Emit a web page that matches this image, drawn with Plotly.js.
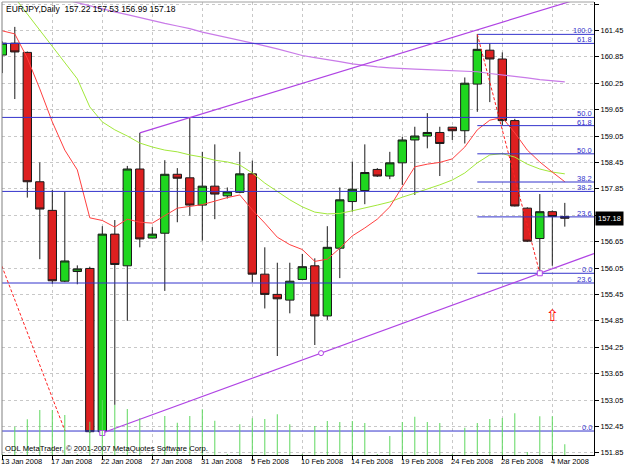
<!DOCTYPE html>
<html><head><meta charset="utf-8">
<script src="https://cdn.plot.ly/plotly-3.0.1.min.js"></script>
<style>html,body{margin:0;padding:0;background:#fff;overflow:hidden}#chart{width:625px;height:469px;}</style>
</head><body><div id="chart"></div>
<script>
// ---------- data ----------
const symbolName = 'EURJPY';
const timeframe = 'Daily';
const dates = ['13 Jan','14 Jan','15 Jan','16 Jan','17 Jan','18 Jan','20 Jan','21 Jan','22 Jan','23 Jan','24 Jan','25 Jan',
  '27 Jan','28 Jan','29 Jan','30 Jan','31 Jan','1 Feb','3 Feb','4 Feb','5 Feb','6 Feb','7 Feb','8 Feb',
  '10 Feb','11 Feb','12 Feb','13 Feb','14 Feb','15 Feb','17 Feb','18 Feb','19 Feb','20 Feb','21 Feb','22 Feb',
  '24 Feb','25 Feb','26 Feb','27 Feb','28 Feb','29 Feb','2 Mar','3 Mar','4 Mar','5 Mar'];
const dateTickIndex = [0,4,8,12,16,20,24,28,32,36,40,44];
const dateTickLabels = ['13 Jan 2008','17 Jan 2008','22 Jan 2008','27 Jan 2008','31 Jan 2008','5 Feb 2008',
  '10 Feb 2008','14 Feb 2008','19 Feb 2008','24 Feb 2008','28 Feb 2008','4 Mar 2008'];
const openP  = [160.89,161.16,160.95,158.01,157.36,155.75,155.97,156.04,152.33,156.82,156.10,158.30,
  156.73,156.84,158.18,158.10,157.48,157.91,157.69,157.77,158.19,155.91,155.45,155.32,
  155.79,156.10,154.96,156.50,157.56,157.81,158.29,158.14,158.44,158.96,159.05,159.13,
  159.25,159.17,160.23,161.00,160.80,159.40,157.41,156.72,157.33,157.22];
const highP  = [161.20,161.53,160.97,158.45,157.82,157.78,156.11,156.08,157.00,157.14,158.37,159.12,
  156.98,158.50,158.32,159.47,158.69,158.86,157.88,158.69,158.49,156.52,156.17,156.17,
  156.37,156.27,157.00,157.88,158.47,158.86,158.32,158.69,159.03,159.26,159.57,159.26,
  159.26,160.38,161.36,161.16,160.95,159.44,157.43,157.73,157.36,157.53];
const lowP   = [160.48,159.89,157.65,156.25,155.69,155.73,155.68,152.30,152.30,152.94,154.85,156.52,
  156.73,155.53,157.09,157.24,156.67,157.16,157.63,157.75,155.72,155.13,154.05,155.02,
  155.78,154.30,154.87,155.82,157.33,157.50,158.12,158.07,157.94,157.71,158.77,158.14,
  158.96,158.88,159.60,159.82,159.30,157.45,156.64,155.93,156.10,156.99];
const closeP = [161.16,160.96,158.01,157.39,155.76,156.21,156.03,152.33,156.82,156.13,158.30,156.71,
  156.82,158.18,158.09,157.48,157.91,157.73,157.78,158.19,155.91,155.45,155.35,155.75,
  156.08,154.96,156.52,157.60,157.84,158.22,158.14,158.44,158.96,159.05,159.13,158.88,
  159.17,160.25,161.02,160.80,159.40,157.46,156.66,157.33,157.22,157.18];
const tickVolume = [100,2830,3570,4500,4500,4000,100,3330,5500,5000,4600,3670,
  100,3900,3230,3900,4570,3430,100,3070,3670,3600,4070,3070,
  100,2900,3400,3300,3400,3200,100,1900,3300,3830,3300,3200,
  100,2730,3200,3600,3700,4170,300,3870,3870,1070];
const maFastRed = [161.44,161.37,160.82,160.12,159.37,158.73,158.28,157.19,157.13,156.98,157.16,157.09,
  157.07,157.25,157.41,157.45,157.49,157.57,157.65,157.71,157.37,157.07,156.75,156.58,
  156.47,156.20,156.25,156.50,156.78,156.96,157.16,157.44,157.91,158.35,158.41,158.45,
  158.53,158.80,159.19,159.41,159.47,159.12,158.73,158.46,158.23,158.01];
const maMidGreen = [162.56,162.19,161.82,161.46,161.07,160.71,160.35,159.71,159.37,159.19,159.05,158.89,
  158.80,158.73,158.69,158.62,158.57,158.50,158.46,158.39,158.21,157.98,157.78,157.60,
  157.44,157.32,157.28,157.29,157.35,157.41,157.48,157.55,157.66,157.75,157.84,157.94,
  158.05,158.21,158.44,158.62,158.65,158.57,158.41,158.30,158.23,158.19];
const maSlowPurple = [null,null,null,null,162.22,162.15,162.07,162.00,161.94,161.87,161.81,161.74,
  161.68,161.61,161.55,161.49,161.41,161.35,161.29,161.23,161.17,161.10,161.03,160.95,
  160.88,160.83,160.79,160.74,160.69,160.65,160.62,160.60,160.58,160.57,160.56,160.55,
  160.54,160.53,160.51,160.47,160.44,160.40,160.37,160.33,160.31,160.28];
const priceTicks = [151.85,152.45,153.05,153.65,154.25,154.85,155.45,156.05,156.65,157.25,157.85,158.45,
  159.05,159.65,160.25,160.85,161.45,162.05];
const fibLevels = [0, 23.6, 38.2, 50, 61.8, 100];
const fib1Time = [-14.2, 5.02];   const fib1Price = [166.60, 152.345];
const fib2Time = [38, 43];        const fib2Price = [161.36, 155.93];
const trendUpperTime = [11, 45];  const trendUpperPrice = [159.12, 162.07];
const trendLowerTime = [8, 43];   const trendLowerPrice = [152.30, 155.93];
const signalTime = [44];          const signalPrice = [154.94];
const copyrightText = 'ODL MetaTrader, \u00a9 2001-2007 MetaQuotes Software Corp.';

// ---------- build ----------
const idx = dates.map((d,i)=>i);
const xRange = [-0.024, 47.336];
const yRange = [151.80, 162.0955];
const FONT = 'Liberation Sans, Arial, sans-serif';
const FS = 7.5;
const fibColor = '#3333cc';
const purple = '#b044e4';
const last = closeP.length-1;

function ray(t, p, xEnd){ const s=(p[1]-p[0])/(t[1]-t[0]); return {x:[t[0],xEnd], y:[p[0], p[0]+s*(xEnd-t[0])]}; }
function fibPrice(pr, lv){ return pr[1] + (pr[0]-pr[1])*lv/100; }

const traces = [];
traces.push({type:'candlestick', x:idx, open:openP, high:highP, low:lowP, close:closeP,
  increasing:{fillcolor:'#1fd61f', line:{color:'#1a1a1a', width:1}},
  decreasing:{fillcolor:'#dd2020', line:{color:'#1a1a1a', width:1}},
  whiskerwidth:0, hoverinfo:'skip'});
traces.push({type:'scatter', mode:'lines', x:idx, y:maSlowPurple, line:{color:'#c97be8', width:1.2}, hoverinfo:'skip'});
traces.push({type:'scatter', mode:'lines', x:idx, y:maMidGreen, line:{color:'#a2e83a', width:1}, hoverinfo:'skip'});
traces.push({type:'scatter', mode:'lines', x:idx, y:maFastRed, line:{color:'#ff4040', width:1}, hoverinfo:'skip'});

const annotations = [];
[[fib1Time,fib1Price],[fib2Time,fib2Price]].forEach(([t,p])=>{
  fibLevels.forEach(lv=>{
    const y = fibPrice(p, lv);
    traces.push({type:'scatter', mode:'lines', x:[t[0], xRange[1]], y:[y,y], line:{color:fibColor, width:1}, hoverinfo:'skip'});
    if (y > yRange[0] && y < yRange[1]) {
      annotations.push({x:xRange[1], y:y, xref:'x', yref:'y', xanchor:'right', yanchor:'bottom', xshift:-1, yshift:-2,
        text:lv.toFixed(1), showarrow:false, font:{family:FONT, size:FS, color:fibColor}, borderpad:0});
    }
  });
  traces.push({type:'scatter', mode:'lines', x:t, y:p, line:{color:'#ff2020', width:1, dash:'3px,2px'}, hoverinfo:'skip'});
});

const up = ray(trendUpperTime, trendUpperPrice, xRange[1]);
traces.push({type:'scatter', mode:'lines', x:up.x, y:up.y, line:{color:purple, width:1.2}, hoverinfo:'skip'});
const lo = ray(trendLowerTime, trendLowerPrice, xRange[1]);
traces.push({type:'scatter', mode:'lines', x:lo.x, y:lo.y, line:{color:purple, width:1.2}, hoverinfo:'skip'});
traces.push({type:'scatter', mode:'markers', x:trendLowerTime, y:trendLowerPrice,
  marker:{symbol:'square', size:5, color:'#ffffff', line:{color:purple, width:1}}, hoverinfo:'skip'});
traces.push({type:'scatter', mode:'markers', x:[(trendLowerTime[0]+trendLowerTime[1])/2], y:[(trendLowerPrice[0]+trendLowerPrice[1])/2],
  marker:{symbol:'circle', size:5, color:'#ffffff', line:{color:purple, width:1}}, hoverinfo:'skip'});
traces.push({type:'scatter', mode:'text', x:signalTime, y:signalPrice, text:signalTime.map(()=>'\u21e7'),
  textfont:{family:'DejaVu Sans', size:16, color:'#ff0000'}, hoverinfo:'skip'});

traces.push({type:'bar', x:idx, y:tickVolume, yaxis:'y2', width:0.08, marker:{color:'#5fd85f', line:{width:0}}, hoverinfo:'skip'});

traces.forEach(t=>{t.showlegend=false;});

dateTickIndex.forEach((i,k)=>{
  annotations.push({x:i, y:0, xref:'x', yref:'paper', xanchor:'left', yanchor:'top', xshift:-2, yshift:-1,
    text:dateTickLabels[k], showarrow:false, font:{family:FONT, size:FS, color:'#000'}, borderpad:0});
});
annotations.push({x:0, y:1, xref:'paper', yref:'paper', xanchor:'left', yanchor:'top', xshift:3, yshift:-1,
  text: symbolName+','+timeframe+'  '+[openP[last],highP[last],lowP[last],closeP[last]].map(v=>v.toFixed(2)).join(' '),
  showarrow:false, font:{family:FONT, size:8.5, color:'#000'}, borderpad:0});
annotations.push({x:0, y:0, xref:'paper', yref:'paper', xanchor:'left', yanchor:'bottom', xshift:2, yshift:1,
  text: copyrightText, showarrow:false, font:{family:FONT, size:7.7, color:'#000'}, borderpad:0});
annotations.push({x:1, y:closeP[last], xref:'paper', yref:'y', xanchor:'left', yanchor:'middle', xshift:1,
  text: closeP[last].toFixed(2), showarrow:false, bgcolor:'#000', font:{family:FONT, size:FS, color:'#fff'}, borderpad:2});

// the tick label hidden behind the current-price box in the reference is left blank
const tickText = priceTicks.map(v => Math.abs(v - closeP[last]) < 0.15 ? '' : v.toFixed(2));

const layout = {
  width:625, height:469, margin:{l:2, r:31, t:2, b:14},
  paper_bgcolor:'#fff', plot_bgcolor:'#fff', showlegend:false, dragmode:false,
  boxgap:0.33, boxgroupgap:0,
  xaxis:{range:xRange, showticklabels:false, ticks:'outside', ticklen:4, tickcolor:'#000', tickvals:dateTickIndex,
    showgrid:true, gridcolor:'#c8c8c8', griddash:'3px,3px', gridwidth:1, zeroline:false,
    showline:true, linecolor:'#000', linewidth:1, rangeslider:{visible:false}, fixedrange:true},
  yaxis:{range:yRange, side:'right', tickvals:priceTicks, ticktext:tickText,
    ticks:'outside', ticklen:4, tickcolor:'#000', tickfont:{family:FONT, size:FS, color:'#000'},
    showgrid:true, gridcolor:'#c8c8c8', griddash:'3px,3px', gridwidth:1, zeroline:false,
    showline:true, linecolor:'#000', linewidth:1, fixedrange:true},
  yaxis2:{overlaying:'y', range:[0,45300], visible:false, fixedrange:true},
  annotations:annotations,
  shapes:[{type:'line', xref:'paper', yref:'paper', x0:0, x1:0, y0:0, y1:1, line:{color:'#808080', width:1}},
          {type:'line', xref:'paper', yref:'paper', x0:0, x1:1, y0:1, y1:1, line:{color:'#a0a0a0', width:1}}]
};
Plotly.newPlot('chart', traces, layout, {staticPlot:true, displayModeBar:false});
</script></body></html>
